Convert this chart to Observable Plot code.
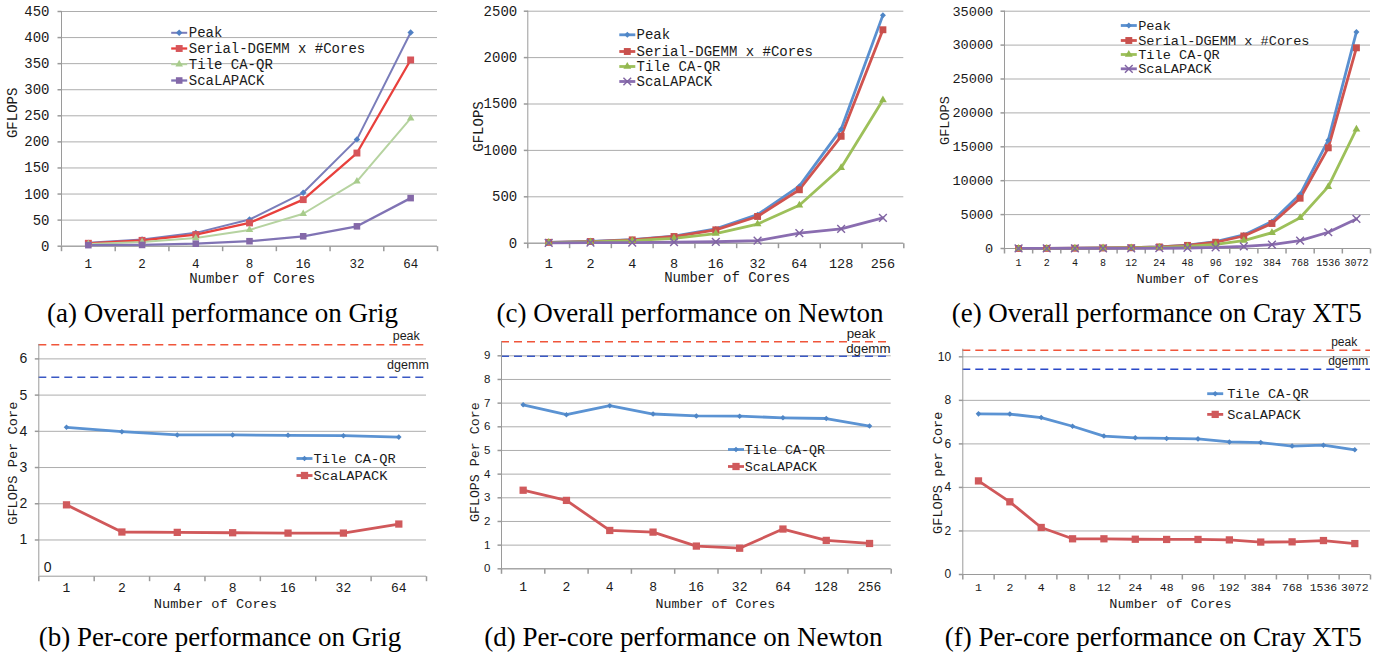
<!DOCTYPE html>
<html><head><meta charset="utf-8">
<script src="https://cdn.jsdelivr.net/npm/d3@7"></script>
<script src="https://cdn.jsdelivr.net/npm/@observablehq/plot@0.6"></script>
<style>
body{margin:0;background:#fff;}
#fig{position:relative;width:1390px;height:654px;overflow:hidden;background:#fff;}
.panel{position:absolute;}
.cap{position:absolute;font-family:"Liberation Serif","Times New Roman",serif;font-size:27px;white-space:nowrap;transform:translate(-50%,-50%);line-height:1;color:#000;}
</style></head><body><div id="fig"></div>
<script>
// ---------------- data ----------------
const grigCores = ["1","2","4","8","16","32","64"];
const grigPeak  = [6.4,12.8,25.6,51.2,102.4,204.8,409.6];
const grigDgemm = [5.6,11.2,22.3,44.6,89.3,178.6,357.1];
const grigTile  = [4.1,8.0,15.6,31.2,62.2,124.2,245.1];
const grigScal  = [2.0,2.4,4.8,9.6,19.0,38.1,92.2];
const grigTicks = [0,50,100,150,200,250,300,350,400,450];

const newtonCores = ["1","2","4","8","16","32","64","128","256"];
const newtonPeak  = [9.6,19.2,38.4,76.8,153.6,307.2,614.4,1228.8,2457.6];
const newtonDgemm = [9.0,18.0,36.0,72.0,144.0,288.0,576.0,1152.0,2300.0];
const newtonTile  = [6.9,13.0,27.5,52.3,103.4,206.4,408.3,812.8,1544.0];
const newtonScal  = [3.3,5.8,6.5,12.4,15.4,27.8,107.5,153.6,273.9];
const newtonTicks = [0,500,1000,1500,2000,2500];

const crayCores = ["1","2","4","8","12","24","48","96","192","384","768","1536","3072"];
const crayPeak  = [10.4,20.8,41.6,83.2,124.8,249.6,499.2,998.4,1996.8,3993.6,7987.2,15974.4,31948.8];
const crayDgemm = [9.6,19.2,38.4,76.8,115.2,230.4,460.8,921.6,1843.2,3686.4,7420.0,14850.0,29600.0];
const crayTile  = [7.4,14.7,28.8,54.5,76.3,150.7,300.0,598.1,1169.3,2327.0,4531.2,9123.8,17602.6];
const crayScal  = [4.3,6.7,8.6,13.1,19.7,38.9,77.3,154.6,305.3,572.2,1152.0,2396.2,4362.2];
const crayTicks = [0,5000,10000,15000,20000,25000,30000,35000];

const grigTilePC  = [4.11,3.99,3.90,3.90,3.89,3.88,3.84];
const grigScalPC  = [1.97,1.22,1.21,1.20,1.19,1.19,1.44];
const grigPeakPC = 6.39, grigDgemmPC = 5.49;
const grigPCTicks = [1,2,3,4,5,6];

const newtonTilePC = [6.93,6.51,6.89,6.54,6.46,6.45,6.38,6.35,6.03];
const newtonScalPC = [3.32,2.89,1.62,1.55,0.96,0.87,1.68,1.20,1.07];
const newtonPeakPC = 9.59, newtonDgemmPC = 8.98;
const newtonPCTicks = [0,1,2,3,4,5,6,7,8,9];

const crayTilePC = [7.38,7.37,7.21,6.81,6.36,6.28,6.25,6.23,6.09,6.06,5.90,5.94,5.73];
const crayScalPC = [4.30,3.34,2.16,1.64,1.64,1.62,1.61,1.61,1.59,1.49,1.50,1.56,1.42];
const crayPeakPC = 10.3, crayDgemmPC = 9.43;
const crayPCTicks = [0,2,4,6,8,10];

// ---------------- styling ----------------
const GRID = "#ADADAD", AXIS = "#9A9A9A", TXT = "#1a1a1a";
const MONO = "'Liberation Mono','Courier New',monospace";
const SANS = "'Liberation Sans',Arial,sans-serif";
const tickDown = {draw(ctx){ctx.moveTo(0,0);ctx.lineTo(0,5);}};
const tickLeft = {draw(ctx){ctx.moveTo(0,0);ctx.lineTo(-4,0);}};
const seg = {draw(ctx){ctx.moveTo(-8,0);ctx.lineTo(8,0);}};

function dotStyle(s){
  return s.symbol === "times"
    ? {stroke: s.marker, strokeWidth: 1.4, fill: "none"}
    : {fill: s.marker, stroke: "none"};
}

function makePanel(c){
  const n = c.cats.length, idx = d3.range(n);
  const bounds = d3.range(n + 1).map(i => i - 0.5);
  const m = [];
  m.push(Plot.ruleY(c.grid, {stroke: GRID, strokeWidth: 1}));
  if (c.refs) {
    for (const r of c.refs) {
      m.push(Plot.ruleY([r.value], {stroke: r.color, strokeWidth: 1.5, strokeDasharray: "8,5"}));
      m.push(Plot.text([r.value], {y: d => d, frameAnchor: "right", text: () => r.label, textAnchor: "end", lineAnchor: "middle",
        dx: r.dx, dy: r.dy, fontFamily: SANS, fontSize: r.fs, fill: TXT}));
    }
  }
  m.push(Plot.ruleX([-0.5], {stroke: AXIS}));
  m.push(Plot.ruleY([0], {stroke: AXIS}));
  m.push(Plot.dot(bounds, {x: d => d, frameAnchor: "bottom", symbol: tickDown, stroke: AXIS, fill: "none"}));
  m.push(Plot.dot(c.grid, {y: d => d, frameAnchor: "left", symbol: tickLeft, stroke: AXIS, fill: "none"}));
  m.push(Plot.text(c.yLabels, {y: d => d, frameAnchor: "left", dx: -c.yPad, textAnchor: "end", lineAnchor: "middle",
    text: d => String(d), fontFamily: c.yFont, fontSize: c.yFs, fill: TXT}));
  if (c.zeroInside) {
    m.push(Plot.text(["0"], {frameAnchor: "bottom-left", dx: 5, dy: -9, text: d => d, textAnchor: "start", lineAnchor: "middle",
      fontFamily: SANS, fontSize: c.yFs, fill: TXT}));
  }
  m.push(Plot.text(idx, {x: d => d, frameAnchor: "bottom", dy: c.xDy, text: i => c.cats[i], textAnchor: "middle", lineAnchor: "middle",
    fontFamily: MONO, fontSize: c.xFs, fill: TXT}));
  m.push(Plot.text(["Number of Cores"], {frameAnchor: "bottom", dx: c.xlab[0], dy: c.xlab[1], text: d => d,
    textAnchor: "middle", lineAnchor: "middle", fontFamily: MONO, fontSize: c.labFs, fill: TXT}));
  m.push(Plot.text([c.yTitle], {frameAnchor: "left", rotate: -90, dx: c.ylab[0], dy: c.ylab[1], text: d => d,
    textAnchor: "middle", lineAnchor: "middle", fontFamily: MONO, fontSize: c.labFs, fill: TXT}));
  for (const s of c.series) {
    const rows = idx.map(i => ({i, v: s.values[i]}));
    m.push(Plot.line(rows, {x: "i", y: "v", stroke: s.line, strokeWidth: s.lw}));
  }
  for (const s of c.series) {
    const rows = idx.map(i => ({i, v: s.values[i]}));
    m.push(Plot.dot(rows, {x: "i", y: "v", symbol: s.symbol, r: s.r, ...dotStyle(s)}));
  }
  c.series.forEach((s, j) => {
    const dy = c.leg.dys[j];
    m.push(Plot.dot([s.name], {frameAnchor: "top-left", dx: c.leg.lx, dy, symbol: seg, stroke: s.line, strokeWidth: s.lw, fill: "none"}));
    m.push(Plot.dot([s.name], {frameAnchor: "top-left", dx: c.leg.lx, dy, symbol: s.symbol, r: s.r, ...dotStyle(s)}));
    m.push(Plot.text([s.name], {frameAnchor: "top-left", dx: c.leg.tx, dy, text: d => d, textAnchor: "start", lineAnchor: "middle",
      fontFamily: MONO, fontSize: c.leg.fs, fill: TXT}));
  });
  const svg = Plot.plot({
    width: c.w, height: c.h,
    marginLeft: c.ml, marginRight: c.mr, marginTop: c.mt, marginBottom: c.mb,
    x: {domain: [-0.5, n - 0.5], axis: null},
    y: {domain: [0, c.ymax], axis: null},
    style: {background: "transparent", overflow: "visible", maxWidth: "none"},
    marks: m
  });
  const div = document.createElement("div");
  div.className = "panel";
  div.style.left = c.left + "px";
  div.style.top = c.top + "px";
  div.style.width = c.w + "px";
  div.appendChild(svg);
  document.getElementById("fig").appendChild(div);
}

// ---------------- panels ----------------
makePanel({
  left: 0, top: 0, w: 460, h: 290, ml: 61, mr: 23, mt: 11, mb: 44.3,
  cats: grigCores, ymax: 450, grid: grigTicks, yLabels: grigTicks, yPad: 12, yFont: MONO, yFs: 14,
  xDy: 17.3, xFs: 12.5, labFs: 14, xlab: [2.7, 32.3], yTitle: "GFLOPS", ylab: [-49.3, -16],
  series: [
    {name: "Peak", values: grigPeak, line: "#7A7DBA", marker: "#5080C4", symbol: "diamond2", r: 2.9, lw: 2},
    {name: "Serial-DGEMM x #Cores", values: grigDgemm, line: "#E8403C", marker: "#D6555A", symbol: "square", r: 3.9, lw: 2.3},
    {name: "Tile CA-QR", values: grigTile, line: "#B6D3A0", marker: "#A8CC8C", symbol: "triangle", r: 2.8, lw: 2},
    {name: "ScaLAPACK", values: grigScal, line: "#8073B4", marker: "#8468A8", symbol: "square", r: 3.7, lw: 2.3}
  ],
  leg: {lx: 117.7, tx: 127.3, dys: [21.3, 37, 52.7, 69], fs: 14}
});

makePanel({
  left: 460, top: 0, w: 460, h: 290, ml: 67.3, mr: 16.7, mt: 10.7, mb: 47.3,
  cats: newtonCores, ymax: 2500, grid: newtonTicks, yLabels: newtonTicks, yPad: 10.6, yFont: MONO, yFs: 14,
  xDy: 20, xFs: 13.5, labFs: 14, xlab: [11.4, 34.6], yTitle: "GFLOPS", ylab: [-49, -0.7],
  series: [
    {name: "Peak", values: newtonPeak, line: "#5A90D0", marker: "#4F86C6", symbol: "diamond2", r: 2.7, lw: 2.8},
    {name: "Serial-DGEMM x #Cores", values: newtonDgemm, line: "#D0534F", marker: "#C8504D", symbol: "square", r: 3.9, lw: 2.8},
    {name: "Tile CA-QR", values: newtonTile, line: "#9DC05A", marker: "#93B850", symbol: "triangle", r: 2.9, lw: 2.8},
    {name: "ScaLAPACK", values: newtonScal, line: "#8A6DB0", marker: "#8064A2", symbol: "times", r: 3.6, lw: 2.8}
  ],
  leg: {lx: 99.5, tx: 108.7, dys: [23.6, 40.3, 55.3, 70.3], fs: 14}
});

makePanel({
  left: 920, top: 0, w: 470, h: 290, ml: 84, mr: 20, mt: 10.7, mb: 42,
  cats: crayCores, ymax: 35000, grid: crayTicks, yLabels: crayTicks, yPad: 11.3, yFont: MONO, yFs: 13.6,
  xDy: 14.7, xFs: 10, labFs: 13.6, xlab: [10.3, 29.7], yTitle: "GFLOPS", ylab: [-59.7, -9.3],
  series: [
    {name: "Peak", values: crayPeak, line: "#5A90D0", marker: "#4F86C6", symbol: "diamond2", r: 2.7, lw: 2.8},
    {name: "Serial-DGEMM x #Cores", values: crayDgemm, line: "#D0534F", marker: "#C8504D", symbol: "square", r: 3.9, lw: 2.8},
    {name: "Tile CA-QR", values: crayTile, line: "#9DC05A", marker: "#93B850", symbol: "triangle", r: 2.9, lw: 2.8},
    {name: "ScaLAPACK", values: crayScal, line: "#8A6DB0", marker: "#8064A2", symbol: "times", r: 3.6, lw: 2.8}
  ],
  leg: {lx: 124.3, tx: 133.7, dys: [14.3, 29.3, 43.3, 57.6], fs: 13.6}
});

makePanel({
  left: 0, top: 322, w: 460, h: 292, ml: 38.3, mr: 34, mt: 21.9, mb: 38.3,
  cats: grigCores, ymax: 6.4, grid: grigPCTicks, yLabels: grigPCTicks, yPad: 11.6, yFont: SANS, yFs: 14, zeroInside: true,
  xDy: 11.6, xFs: 13, labFs: 13.7, xlab: [-17.2, 27], yTitle: "GFLOPS Per Core", ylab: [-26.6, 2.9],
  refs: [
    {value: grigPeakPC, color: "#F0553A", label: "peak", dx: -6.7, dy: -8.3, fs: 12.5},
    {value: grigDgemmPC, color: "#3A58C4", label: "dgemm", dx: 2.3, dy: -12, fs: 12.5}
  ],
  series: [
    {name: "Tile CA-QR", values: grigTilePC, line: "#5B93D3", marker: "#4F86C6", symbol: "diamond2", r: 2.5, lw: 2.8},
    {name: "ScaLAPACK", values: grigScalPC, line: "#D0585A", marker: "#D05A5C", symbol: "square", r: 4.1, lw: 2.8}
  ],
  leg: {lx: 265.7, tx: 274.7, dys: [114.1, 131.1], fs: 13.7}
});

makePanel({
  left: 460, top: 322, w: 460, h: 292, ml: 41, mr: 29.3, mt: 19.1, mb: 45.7,
  cats: newtonCores, ymax: 9.6, grid: newtonPCTicks, yLabels: newtonPCTicks, yPad: 11, yFont: SANS, yFs: 11.5,
  xDy: 17.7, xFs: 13, labFs: 13.3, xlab: [19.1, 35], yTitle: "GFLOPS Per Core", ylab: [-27, 7],
  refs: [
    {value: newtonPeakPC, color: "#F0553A", label: "peak", dx: -15.7, dy: -8.6, fs: 13.3},
    {value: newtonDgemmPC, color: "#3A58C4", label: "dgemm", dx: -0.7, dy: -7.8, fs: 13.3}
  ],
  series: [
    {name: "Tile CA-QR", values: newtonTilePC, line: "#5B93D3", marker: "#4F86C6", symbol: "diamond2", r: 2.5, lw: 2.8},
    {name: "ScaLAPACK", values: newtonScalPC, line: "#D0585A", marker: "#D05A5C", symbol: "square", r: 4.1, lw: 2.8}
  ],
  leg: {lx: 234.5, tx: 243.3, dys: [107.9, 124.9], fs: 13.4}
});

makePanel({
  left: 920, top: 322, w: 470, h: 292, ml: 42.3, mr: 20, mt: 26.7, mb: 40,
  cats: crayCores, ymax: 10.35, grid: crayPCTicks, yLabels: crayPCTicks, yPad: 11.6, yFont: SANS, yFs: 12,
  xDy: 13.3, xFs: 11.5, labFs: 13.6, xlab: [3.8, 29.3], yTitle: "GFLOPS per Core", ylab: [-25.6, 10.9],
  refs: [
    {value: crayPeakPC, color: "#F0553A", label: "peak", dx: -13.3, dy: -7.7, fs: 12},
    {value: crayDgemmPC, color: "#2A48C8", label: "dgemm", dx: -2.3, dy: -7.7, fs: 12}
  ],
  series: [
    {name: "Tile CA-QR", values: crayTilePC, line: "#5B93D3", marker: "#4F86C6", symbol: "diamond2", r: 2.5, lw: 2.8},
    {name: "ScaLAPACK", values: crayScalPC, line: "#D0585A", marker: "#D05A5C", symbol: "square", r: 4.1, lw: 2.8}
  ],
  leg: {lx: 252.4, tx: 264.4, dys: [44.5, 65.2], fs: 13.6}
});

// ---------------- captions ----------------
const captions = [
  ["(a) Overall performance on Grig", 222.5, 312.7],
  ["(c) Overall performance on Newton", 690, 312.7],
  ["(e) Overall performance on Cray XT5", 1156.7, 312.7],
  ["(b) Per-core performance on Grig", 220, 636.7],
  ["(d) Per-core performance on Newton", 683.3, 636.7],
  ["(f) Per-core performance on Cray XT5", 1153.3, 636.7]
];
for (const [t, x, y] of captions) {
  const d = document.createElement("div");
  d.className = "cap";
  d.style.left = x + "px";
  d.style.top = y + "px";
  d.textContent = t;
  document.getElementById("fig").appendChild(d);
}
</script></body></html>
